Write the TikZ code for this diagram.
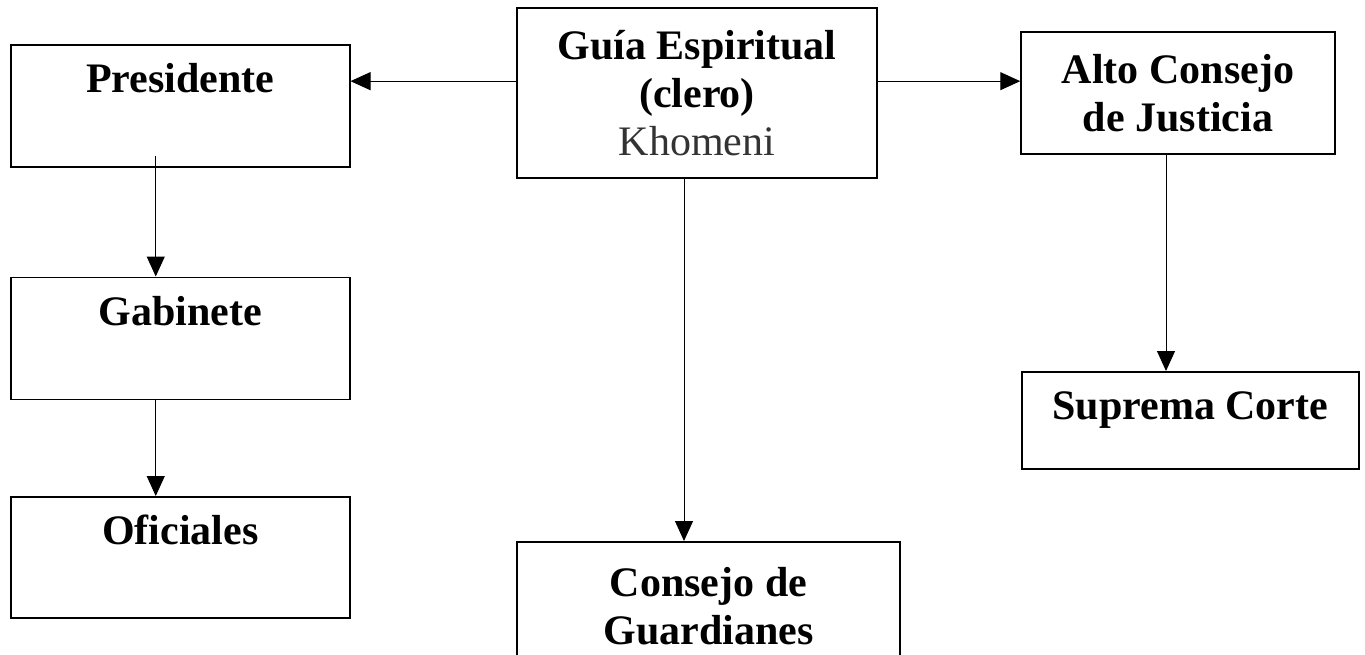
\documentclass[tikz,border=0pt]{standalone}
\usepackage{fontspec}
\setmainfont{Liberation Serif}
\usetikzlibrary{positioning}
\usetikzlibrary{arrows.meta}

\begin{document}
\begin{tikzpicture}[x=0.5pt, y=-0.5pt,
        box/.style={draw, line width=0.75pt, inner sep=0pt, font=\fontsize{21}{24}\selectfont\bfseries},
        arr/.style={-{Triangle[length=10pt, width=9pt]}, line width=0.5pt}]
        \clip (0,0) rectangle (1365,654);

        \node[box, anchor=north west, minimum width=169.5pt, text height=24pt, text depth=37pt] (pres) at (10,44) {Presidente};
        \node[box, below=54.5pt of pres, minimum width=169.5pt, text height=24pt, text depth=37pt] (gab) {Gabinete};
        \node[box, below=48pt of gab, minimum width=169.5pt, text height=24pt, text depth=36.5pt] (ofi) {Oficiales};

        \node[box, minimum width=180pt, minimum height=85pt, align=center] (guia) at (697,93) {Guía Espiritual\\(clero)\\{\mdseries\color{black!80}Khomeni}};
        \node[box, anchor=north, minimum width=191.5pt, minimum height=64pt, align=center] (cons) at (708.5,541) {Consejo de\\Guardianes};

        \node[box, minimum width=157pt, minimum height=61pt, align=center] (alto) at (1178,93) {Alto Consejo\\de Justicia};
        \node[box, anchor=north west, minimum width=168.5pt, text height=24pt, text depth=24.5pt] (sup) at (1021,371) {Suprema Corte};

        \coordinate (lvl) at ([yshift=3.5pt]pres.mid east);
        \draw[arr] (guia.west |- lvl) -- (lvl);
        \draw[arr] (guia.east |- lvl) -- (alto.west |- lvl);
        \draw[arr] ([xshift=-12.25pt, yshift=6pt]pres.south) -- ([xshift=-12.25pt]pres.south |- gab.north);
        \draw[arr] ([xshift=-12.25pt]gab.south) -- ([xshift=-12.25pt]gab.south |- ofi.north);
        \draw[arr] ([xshift=-6.5pt]guia.south) -- ([xshift=-6.5pt]guia.south |- cons.north);
        \draw[arr] ([xshift=-6pt]alto.south) -- ([xshift=-6pt]alto.south |- sup.north);
\end{tikzpicture}
\end{document}
